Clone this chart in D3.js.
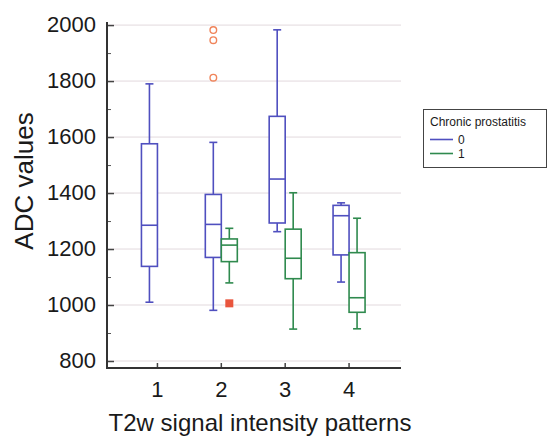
<!DOCTYPE html>
<html>
<head>
<meta charset="utf-8">
<script src="https://cdn.jsdelivr.net/npm/d3@7"></script>
<style>
  body { margin: 0; background: #fff; }
  text { font-family: "Liberation Sans", Arial, sans-serif; fill: #1a1a1a; }
</style>
</head>
<body>
<script>

// data

const categories = ["1", "2", "3", "4"];
const groups = ["0", "1"];

// [min, q1, median, q3, max] per category, null where there is no box
const stats0 = [
    [1010, 1138, 1285, 1576, 1790],
    [981, 1170, 1288, 1395, 1581],
    [1262, 1293, 1450, 1674, 1983],
    [1082, 1179, 1319, 1356, 1365]
];
const stats1 = [
    null,
    [1079, 1155, 1214, 1236, 1274],
    [914, 1094, 1167, 1271, 1401],
    [915, 974, 1026, 1187, 1310]
];

// outliers: [category, group, value]
const outsideValues = [["2", "0", 1982], ["2", "0", 1946], ["2", "0", 1812]];
const farValues = [["2", "1", 1006]];

const yTicks = [800, 1000, 1200, 1400, 1600, 1800, 2000];
const yMinorTicks = [900, 1100, 1300, 1500, 1700, 1900];

// dimensions

const dms = {
    width: 548,
    height: 437,
    left: 107,
    right: 401,
    top: 22,
    bottom: 368
};

const colors = { "0": "#4f4fbf", "1": "#2f8a4e" };

const svg = d3.select("body")
    .append("svg")
        .attr("width", dms.width)
        .attr("height", dms.height);

// scales

const yScale = d3.scaleLinear()
    .domain([775, 2011])
    .range([dms.bottom, dms.top]);

const xScale = d3.scaleBand()
    .domain(categories)
    .range([125.5, 381])
    .padding(0);

const xGroup = d3.scaleBand()
    .domain(groups)
    .range([-20, 20])
    .padding(0.5);

const boxW = 16;

// gridlines

svg.append("g")
    .selectAll("line")
    .data(yTicks)
    .join("line")
        .attr("x1", dms.left)
        .attr("x2", dms.right)
        .attr("y1", d => yScale(d))
        .attr("y2", d => yScale(d))
        .attr("stroke", "#e2d9dd")
        .attr("stroke-width", 1);

// axes

const yAxis = svg.append("g")
    .attr("transform", `translate(${dms.left},0)`)
    .call(d3.axisRight(yScale).tickValues(yTicks).tickSize(7).tickFormat(""));
yAxis.select(".domain").remove();
yAxis.selectAll("line").attr("stroke", "#444").attr("stroke-width", 1.5);

svg.append("g")
    .attr("transform", `translate(${dms.left},0)`)
    .call(d3.axisRight(yScale).tickValues(yMinorTicks).tickSize(4).tickFormat(""))
    .call(g => g.select(".domain").remove())
    .call(g => g.selectAll("line").attr("stroke", "#555").attr("stroke-width", 1));

svg.append("g")
    .selectAll("text")
    .data(yTicks)
    .join("text")
        .attr("x", 96)
        .attr("y", d => yScale(d) + 7)
        .attr("text-anchor", "end")
        .attr("font-size", 22)
        .text(d => d);

const xAxis = svg.append("g")
    .attr("transform", `translate(0,${dms.bottom})`)
    .call(d3.axisTop(xScale).tickSize(5).tickFormat(""));
xAxis.select(".domain").remove();
xAxis.selectAll("line").attr("stroke", "#444").attr("stroke-width", 1.5);

svg.append("g")
    .selectAll("text")
    .data(categories)
    .join("text")
        .attr("x", d => xScale(d) + xScale.bandwidth() / 2)
        .attr("y", 397)
        .attr("text-anchor", "middle")
        .attr("font-size", 22)
        .text(d => d);

// axis lines
svg.append("line")
    .attr("x1", dms.left).attr("x2", dms.left)
    .attr("y1", dms.top).attr("y2", dms.bottom)
    .attr("stroke", "#333").attr("stroke-width", 2);
svg.append("line")
    .attr("x1", dms.left - 1).attr("x2", dms.right)
    .attr("y1", dms.bottom).attr("y2", dms.bottom)
    .attr("stroke", "#333").attr("stroke-width", 2);

// titles

svg.append("text")
    .attr("x", 260)
    .attr("y", 431)
    .attr("text-anchor", "middle")
    .attr("font-size", 24)
    .text("T2w signal intensity patterns");

svg.append("text")
    .attr("transform", "translate(33,181) rotate(-90)")
    .attr("text-anchor", "middle")
    .attr("font-size", 26)
    .text("ADC values");

// boxes

const boxData = [];
categories.forEach((c, i) => {
    [stats0[i], stats1[i]].forEach((s, j) => {
        if (s) boxData.push({ cat: c, grp: groups[j], s: s });
    });
});

const cx = d => xScale(d.cat) + xScale.bandwidth() / 2 + xGroup(d.grp) + xGroup.bandwidth() / 2;

const boxes = svg.append("g")
    .selectAll("g")
    .data(boxData)
    .join("g")
        .attr("stroke", d => colors[d.grp])
        .attr("stroke-width", 1.6)
        .attr("fill", "none");

boxes.append("line")
    .attr("x1", cx).attr("x2", cx)
    .attr("y1", d => yScale(d.s[0])).attr("y2", d => yScale(d.s[1]));
boxes.append("line")
    .attr("x1", cx).attr("x2", cx)
    .attr("y1", d => yScale(d.s[3])).attr("y2", d => yScale(d.s[4]));
boxes.append("line")
    .attr("x1", d => cx(d) - 4).attr("x2", d => cx(d) + 4)
    .attr("y1", d => yScale(d.s[0])).attr("y2", d => yScale(d.s[0]));
boxes.append("line")
    .attr("x1", d => cx(d) - 4).attr("x2", d => cx(d) + 4)
    .attr("y1", d => yScale(d.s[4])).attr("y2", d => yScale(d.s[4]));
boxes.append("rect")
    .attr("x", d => cx(d) - boxW / 2)
    .attr("width", boxW)
    .attr("y", d => yScale(d.s[3]))
    .attr("height", d => yScale(d.s[1]) - yScale(d.s[3]))
    .attr("fill", "#fff");
boxes.append("line")
    .attr("x1", d => cx(d) - boxW / 2).attr("x2", d => cx(d) + boxW / 2)
    .attr("y1", d => yScale(d.s[2])).attr("y2", d => yScale(d.s[2]));

// outliers

const ox = d => xScale(d[0]) + xScale.bandwidth() / 2 + xGroup(d[1]) + xGroup.bandwidth() / 2;

svg.append("g")
    .selectAll("circle")
    .data(outsideValues)
    .join("circle")
        .attr("cx", ox)
        .attr("cy", d => yScale(d[2]))
        .attr("r", 3.3)
        .attr("fill", "none")
        .attr("stroke", "#f0845a")
        .attr("stroke-width", 1.4);

svg.append("g")
    .selectAll("rect")
    .data(farValues)
    .join("rect")
        .attr("x", d => ox(d) - 4)
        .attr("y", d => yScale(d[2]) - 4)
        .attr("width", 8)
        .attr("height", 8)
        .attr("fill", "#e9553d");

// legend

const legend = svg.append("g");
legend.append("rect")
    .attr("x", 423.5).attr("y", 109.5)
    .attr("width", 123).attr("height", 58)
    .attr("fill", "#fff")
    .attr("stroke", "#444")
    .attr("stroke-width", 1);
legend.append("text")
    .attr("x", 430).attr("y", 126)
    .attr("font-size", 12)
    .text("Chronic prostatitis");

const items = legend.selectAll("g.item")
    .data(groups)
    .join("g")
        .attr("transform", (d, i) => `translate(430,${139.5 + i * 14})`);
items.append("line")
    .attr("x1", 0).attr("x2", 23)
    .attr("stroke", d => colors[d])
    .attr("stroke-width", 1.6);
items.append("text")
    .attr("x", 28).attr("y", 4.5)
    .attr("font-size", 12)
    .text(d => d);

</script>
</body>
</html>
